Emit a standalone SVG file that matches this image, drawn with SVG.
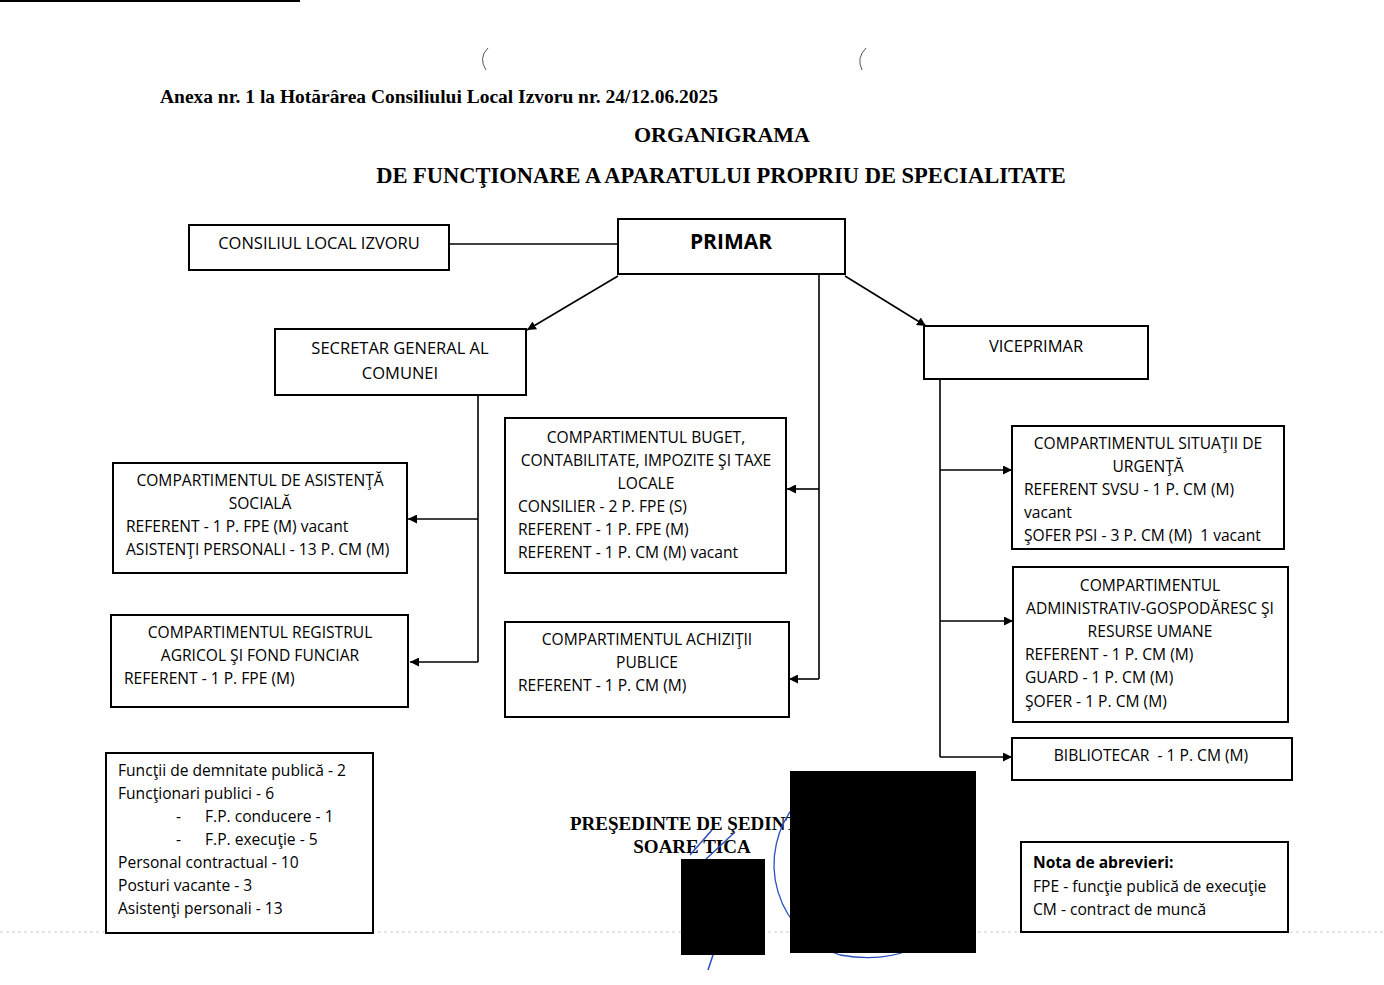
<svg xmlns="http://www.w3.org/2000/svg" width="1384" height="985" viewBox="0 0 1384 985">
<defs>
<marker id="ah" viewBox="0 0 10 10" refX="10" refY="5" markerWidth="9" markerHeight="9" markerUnits="userSpaceOnUse" orient="auto">
<path d="M0,0 L10,5 L0,10 z" fill="#000"/>
</marker>
<style>
.box{fill:#fff;stroke:#000;stroke-width:2}
.t{font-family:"Open Sans","Liberation Sans",sans-serif;font-size:15.6px;fill:#000}
.c{text-anchor:middle}
.h{font-family:"Liberation Serif",serif;font-weight:bold;fill:#000}
.ln{stroke:#000;stroke-width:1.6;fill:none}
.ar{stroke:#000;stroke-width:1.6;fill:none;marker-end:url(#ah)}
</style>
</defs>
<rect width="1384" height="985" fill="#fff"/>
<line x1="0" y1="1" x2="300" y2="1" stroke="#000" stroke-width="2"/>
<path d="M488,48 Q478,58 486,70" stroke="#555" fill="none" stroke-width="1"/>
<path d="M866,48 Q856,58 862,70" stroke="#555" fill="none" stroke-width="1"/>
<line x1="0" y1="932" x2="1384" y2="932" stroke="#ccc" stroke-width="1" stroke-dasharray="3 3"/>

<g id="titles">
<text class="h" x="160" y="103" style="font-size:18px" textLength="558" lengthAdjust="spacingAndGlyphs">Anexa nr. 1 la Hotărârea Consiliului Local Izvoru nr. 24/12.06.2025</text>
<text class="h" x="722" y="142" style="font-size:22px" text-anchor="middle">ORGANIGRAMA</text>
<text class="h" x="721" y="183" style="font-size:22.5px" text-anchor="middle">DE FUNCŢIONARE A APARATULUI PROPRIU DE SPECIALITATE</text>
</g>

<g id="connectors">
<line class="ln" x1="449" y1="244" x2="618" y2="244"/>
<line class="ar" x1="618" y1="276" x2="527" y2="330"/>
<line class="ar" x1="845" y1="276" x2="926" y2="326"/>
<polyline class="ln" points="819,274 819,679"/>
<line class="ar" x1="819" y1="489" x2="787" y2="489"/>
<line class="ar" x1="819" y1="679" x2="789" y2="679"/>
<polyline class="ln" points="478,395 478,662"/>
<line class="ar" x1="478" y1="519" x2="408" y2="519"/>
<line class="ar" x1="478" y1="662" x2="410" y2="662"/>
<polyline class="ln" points="940,379 940,757"/>
<line class="ar" x1="940" y1="470" x2="1012" y2="470"/>
<line class="ar" x1="940" y1="621" x2="1013" y2="621"/>
<line class="ar" x1="940" y1="757" x2="1012" y2="757"/>
</g>

<g id="consiliul">
<rect class="box" x="189" y="225" width="260" height="45"/>
<text class="t c" x="319" y="249" style="font-size:16.5px">CONSILIUL LOCAL IZVORU</text>
</g>
<g id="primar">
<rect class="box" x="618" y="219" width="227" height="55"/>
<text class="t c" x="731" y="249" style="font-size:21px;font-weight:bold">PRIMAR</text>
</g>
<g id="secretar">
<rect class="box" x="275" y="329" width="251" height="66"/>
<text class="t c" x="400" y="354" style="font-size:16.5px">SECRETAR GENERAL AL</text>
<text class="t c" x="400" y="379" style="font-size:16.5px">COMUNEI</text>
</g>
<g id="viceprimar">
<rect class="box" x="924" y="326" width="224" height="53"/>
<text class="t c" x="1036" y="352" style="font-size:16.5px">VICEPRIMAR</text>
</g>
<g id="asistenta">
<rect class="box" x="113" y="463" width="294" height="110"/>
<text class="t c" x="260" y="486">COMPARTIMENTUL DE ASISTENŢĂ</text>
<text class="t c" x="260" y="509">SOCIALĂ</text>
<text class="t" x="126" y="532">REFERENT - 1 P. FPE (M) vacant</text>
<text class="t" x="126" y="555">ASISTENŢI PERSONALI - 13 P. CM (M)</text>
</g>
<g id="registrul">
<rect class="box" x="111" y="615" width="297" height="92"/>
<text class="t c" x="260" y="638">COMPARTIMENTUL REGISTRUL</text>
<text class="t c" x="260" y="661">AGRICOL ŞI FOND FUNCIAR</text>
<text class="t" x="124" y="684">REFERENT - 1 P. FPE (M)</text>
</g>
<g id="buget">
<rect class="box" x="505" y="418" width="281" height="155"/>
<text class="t c" x="646" y="443">COMPARTIMENTUL BUGET,</text>
<text class="t c" x="646" y="466">CONTABILITATE, IMPOZITE ŞI TAXE</text>
<text class="t c" x="646" y="489">LOCALE</text>
<text class="t" x="518" y="512">CONSILIER - 2 P. FPE (S)</text>
<text class="t" x="518" y="535">REFERENT - 1 P. FPE (M)</text>
<text class="t" x="518" y="558">REFERENT - 1 P. CM (M) vacant</text>
</g>
<g id="achizitii">
<rect class="box" x="505" y="622" width="284" height="95"/>
<text class="t c" x="647" y="645">COMPARTIMENTUL ACHIZIŢII</text>
<text class="t c" x="647" y="668">PUBLICE</text>
<text class="t" x="518" y="691">REFERENT - 1 P. CM (M)</text>
</g>
<g id="situatii">
<rect class="box" x="1012" y="426" width="272" height="123"/>
<text class="t c" x="1148" y="449">COMPARTIMENTUL SITUAŢII DE</text>
<text class="t c" x="1148" y="472">URGENŢĂ</text>
<text class="t" x="1024" y="495">REFERENT SVSU - 1 P. CM (M)</text>
<text class="t" x="1024" y="518">vacant</text>
<text class="t" x="1024" y="541" xml:space="preserve">ŞOFER PSI - 3 P. CM (M)  1 vacant</text>
</g>
<g id="administrativ">
<rect class="box" x="1013" y="567" width="275" height="155"/>
<text class="t c" x="1150" y="591">COMPARTIMENTUL</text>
<text class="t c" x="1150" y="614">ADMINISTRATIV-GOSPODĂRESC ŞI</text>
<text class="t c" x="1150" y="637">RESURSE UMANE</text>
<text class="t" x="1025" y="660">REFERENT - 1 P. CM (M)</text>
<text class="t" x="1025" y="683">GUARD - 1 P. CM (M)</text>
<text class="t" x="1025" y="707">ŞOFER - 1 P. CM (M)</text>
</g>
<g id="bibliotecar">
<rect class="box" x="1012" y="738" width="280" height="42"/>
<text class="t c" x="1151" y="761" xml:space="preserve">BIBLIOTECAR  - 1 P. CM (M)</text>
</g>
<g id="sumar">
<rect class="box" x="106" y="753" width="267" height="180"/>
<text class="t" x="118" y="776">Funcţii de demnitate publică - 2</text>
<text class="t" x="118" y="799">Funcţionari publici - 6</text>
<text class="t" x="176" y="822">-</text><text class="t" x="205" y="822">F.P. conducere - 1</text>
<text class="t" x="176" y="845">-</text><text class="t" x="205" y="845">F.P. execuţie - 5</text>
<text class="t" x="118" y="868">Personal contractual - 10</text>
<text class="t" x="118" y="891">Posturi vacante - 3</text>
<text class="t" x="118" y="914">Asistenţi personali - 13</text>
</g>
<g id="nota">
<rect class="box" x="1021" y="842" width="267" height="90"/>
<text class="t" x="1033" y="868" style="font-weight:bold">Nota de abrevieri:</text>
<text class="t" x="1033" y="892">FPE - funcţie publică de execuţie</text>
<text class="t" x="1033" y="915">CM - contract de muncă</text>
</g>
<g id="semnatura">
<text class="h" x="570" y="830" style="font-size:19px">PREŞEDINTE DE ŞEDINŢĂ,</text>
<text class="h" x="692" y="853" style="font-size:19px" text-anchor="middle">SOARE TICA</text>
<path d="M795,805 A95,95 0 0 0 840,955 Q880,962 910,950" stroke="#2a4fc0" stroke-width="1.3" fill="none"/>
<path d="M712,830 L690,855 M735,832 L705,860 M718,940 L708,970" stroke="#2a4fc0" stroke-width="1.5" fill="none"/>
<rect x="790" y="771" width="186" height="182" fill="#000"/>
<rect x="681" y="859" width="84" height="96" fill="#000"/>
</g>
</svg>
